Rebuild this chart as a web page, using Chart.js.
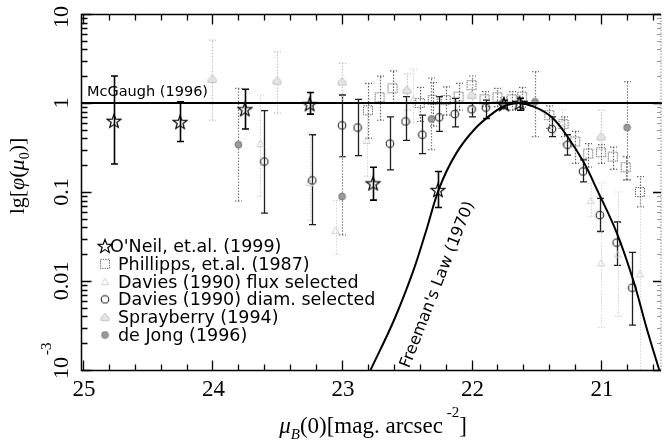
<!DOCTYPE html>
<html>
<head>
<meta charset="utf-8">
<script src="https://cdn.jsdelivr.net/npm/chart.js@4.4.0/dist/chart.umd.min.js"></script>
<style>
html, body { margin: 0; padding: 0; background: #fff; }
#wrap { width: 667px; height: 445px; }
</style>
</head>
<body>
<div id="wrap"><canvas id="myChart" width="667" height="445"></canvas></div>
<script>
// axis ticks
var xTickValues = [25, 24, 23, 22, 21];
var xTickLabels = ['25', '24', '23', '22', '21'];
var yTickValues = [10, 1, 0.1, 0.01, 0.001];
var yTickLabels = ['10', '1', '0.1', '0.01', '10'];

// O'Neil, et.al. (1999)
var oneilMu  = [24.76, 24.25, 23.75, 23.25, 22.76, 22.26, 21.75, 21.63];
var oneilPhi = [0.63, 0.61, 0.85, 0.97, 0.125, 0.105, 0.97, 1.0];
var oneilLo  = [0.206, 0.37, 0.51, 0.75, 0.081, 0.067, 0.88, 0.83];
var oneilHi  = [2.01, 1.03, 1.43, 1.31, 0.19, 0.17, 1.07, 1.13];

// Phillipps, et.al. (1987)
var phillMu  = [22.80, 22.71, 22.61, 22.40, 22.30, 22.20, 22.10, 22.00, 21.90, 21.80, 21.69, 21.61, 21.40, 21.29, 21.20, 21.10, 21.00, 20.91, 20.81, 20.70];
var phillPhi = [0.83, 1.16, 1.46, 1.0, 1.08, 1.08, 1.18, 1.59, 1.10, 1.16, 1.10, 1.18, 0.73, 0.58, 0.37, 0.27, 0.28, 0.25, 0.19, 0.10];
var phillLo  = [0.40, 0.64, 1.0, 0.62, 0.55, 0.73, 0.83, 1.25, 0.91, 0.91, 0.83, 0.90, 0.52, 0.42, 0.21, 0.19, 0.21, 0.18, 0.137, 0.068];
var phillHi  = [1.66, 2.0, 2.29, 1.5, 1.7, 1.52, 1.66, 2.01, 1.34, 1.46, 1.34, 1.5, 0.93, 0.70, 0.48, 0.35, 0.34, 0.32, 0.25, 0.149];

// Davies (1990) flux selected
var fluxMu  = [23.63, 23.25, 23.05, 22.81, 22.45, 21.30, 21.08, 21.00, 20.87, 20.70];
var fluxPhi = [0.35, 0.127, 0.037, 0.38, 1.1, 0.6, 0.08, 0.016, 0.02, 0.012];
var fluxLo  = [0.089, 0.048, 0.02, 0.15, 0.6, 0.35, 0.053, 0.003, 0.004, 0.001];
var fluxHi  = [1.23, 0.46, 0.08, 0.9, 2.4, 0.85, 0.125, 0.126, 0.1, 0.09];

// Davies (1990) diam. selected
var diamMu  = [23.60, 23.23, 23.00, 22.88, 22.63, 22.51, 22.38, 22.25, 22.13, 22.00, 21.89, 21.38, 21.26, 21.14, 21.01, 20.88, 20.76];
var diamPhi = [0.22, 0.135, 0.56, 0.53, 0.35, 0.62, 0.44, 0.69, 0.75, 0.85, 0.89, 0.51, 0.34, 0.17, 0.055, 0.027, 0.0084];
var diamLo  = [0.058, 0.043, 0.25, 0.256, 0.177, 0.38, 0.27, 0.48, 0.54, 0.70, 0.67, 0.42, 0.26, 0.13, 0.036, 0.015, 0.0032];
var diamHi  = [0.82, 0.44, 1.23, 1.1, 0.70, 1.18, 0.73, 1.18, 1.13, 0.99, 1.08, 0.70, 0.44, 0.23, 0.085, 0.046, 0.021];

// Sprayberry (1994)
var sprayMu  = [24.00, 23.50, 23.00, 22.50, 22.00, 21.00];
var sprayPhi = [1.86, 1.78, 1.74, 1.40, 1.23, 0.42];
var sprayLo  = [0.64, 0.77, 1.0, 0.83, 0.9, 0.3];
var sprayHi  = [5.1, 3.77, 2.79, 2.12, 1.6, 0.83];

// de Jong (1996)
var jongMu  = [23.80, 23.00, 22.31, 21.76, 21.51, 20.80];
var jongPhi = [0.34, 0.089, 0.66, 1.0, 1.03, 0.53];
var jongLo  = [0.079, 0.033, 0.30, 0.85, 0.42, 0.137];
var jongHi  = [1.46, 0.25, 1.9, 1.15, 2.25, 1.74];

// McGaugh (1996) and Freeman's Law (1970)
var mcgaughMu  = [25.015, 20.53];
var mcgaughPhi = [1, 1];
var freemanMu  = [22.78, 22.60, 22.45, 22.35, 22.25, 22.12, 21.97, 21.82, 21.74, 21.64, 21.51, 21.38, 21.26, 21.13, 21.03, 20.88, 20.75, 20.65, 20.56, 20.50];
var freemanPhi = [0.001, 0.0036, 0.013, 0.037, 0.11, 0.27, 0.52, 0.8, 0.93, 1.0, 0.9, 0.69, 0.42, 0.21, 0.105, 0.035, 0.010, 0.0030, 0.0011, 0.0006];

function pts(xs, ys) {
	return xs.map(function(x, i){ return {x: x, y: ys[i]}; });
}

function marker(w, h, draw) {
	var c = document.createElement('canvas');
	c.width = w; c.height = h;
	draw(c.getContext('2d'), w, h);
	return c;
}

var starImg = marker(16, 16, function(g){
	g.beginPath();
	for (var i = 0; i < 10; i++) {
		var r = i % 2 ? 3 : 7.2;
		var a = -Math.PI / 2 + i * Math.PI / 5;
		var px = 8 + r * Math.cos(a), py = 8.6 + r * Math.sin(a);
		if (i) g.lineTo(px, py); else g.moveTo(px, py);
	}
	g.closePath();
	g.strokeStyle = '#000'; g.lineWidth = 1.2; g.stroke();
});
var squareImg = marker(12, 12, function(g){
	g.setLineDash([1.2, 1.2]);
	g.strokeStyle = '#555'; g.lineWidth = 1.1;
	g.strokeRect(1.5, 1.5, 9, 9);
});
var fluxImg = marker(9, 9, function(g){
	g.beginPath(); g.moveTo(4.5, 1); g.lineTo(8, 7.5); g.lineTo(1, 7.5); g.closePath();
	g.strokeStyle = '#d0d0d0'; g.lineWidth = 1; g.stroke();
});
var circleImg = marker(10, 10, function(g){
	g.beginPath(); g.arc(5, 5, 3.8, 0, Math.PI * 2);
	g.strokeStyle = '#222'; g.lineWidth = 1.1; g.stroke();
});
var sprayImg = marker(10, 10, function(g){
	g.beginPath(); g.moveTo(5, 1); g.lineTo(9, 5.5); g.lineTo(9, 8.5); g.lineTo(1, 8.5); g.lineTo(1, 5.5); g.closePath();
	g.fillStyle = '#e4e4e4'; g.fill();
	g.strokeStyle = '#c4c4c4'; g.lineWidth = 1; g.stroke();
});
var jongImg = marker(9, 9, function(g){
	g.beginPath(); g.arc(4.5, 4.5, 3.4, 0, Math.PI * 2);
	g.fillStyle = '#9a9a9a'; g.fill();
	g.strokeStyle = '#6a6a6a'; g.lineWidth = 0.8; g.stroke();
});

// error bars, frame, ticks, labels, legend
var decorPlugin = {
	id: 'decor',
	beforeDatasetsDraw: function(chart){
		var c = chart.ctx, xs = chart.scales.x, ys = chart.scales.y;
		chart.data.datasets.forEach(function(ds){
			if (!ds.errLo) return;
			c.save();
			c.strokeStyle = ds.errColor;
			c.lineWidth = ds.errWidth;
			c.setLineDash(ds.errDash);
			ds.data.forEach(function(p, i){
				var x = Math.round(xs.getPixelForValue(p.x)) + 0.5;
				var y1 = ys.getPixelForValue(ds.errLo[i]);
				var y2 = ys.getPixelForValue(ds.errHi[i]);
				y1 = Math.min(y1, chart.chartArea.bottom);
				c.beginPath();
				c.moveTo(x, y1); c.lineTo(x, y2);
				c.moveTo(x - 3.5, y1); c.lineTo(x + 3.5, y1);
				c.moveTo(x - 3.5, y2); c.lineTo(x + 3.5, y2);
				c.stroke();
			});
			c.restore();
		});
	},
	afterDraw: function(chart){
		var c = chart.ctx, xs = chart.scales.x, ys = chart.scales.y, a = chart.chartArea;
		var L = a.left + 0.5, R = a.right - 1, T = a.top + 0.5, B = a.bottom + 0.5;
		c.save();
		// frame
		c.strokeStyle = '#000'; c.lineWidth = 1.5;
		c.beginPath();
		c.moveTo(R, T); c.lineTo(L, T); c.lineTo(L, B); c.lineTo(R, B);
		c.stroke();
		c.strokeStyle = '#888'; c.lineWidth = 1; c.setLineDash([1.5, 1.5]);
		c.beginPath(); c.moveTo(R, T); c.lineTo(R, B); c.stroke();
		c.setLineDash([]);
		// x ticks
		c.strokeStyle = '#000'; c.lineWidth = 1.3;
		c.beginPath();
		for (var k = 103; k <= 125; k++) {
			var v = k / 5;
			var px = Math.round(xs.getPixelForValue(v)) + 0.5;
			var len = k % 5 === 0 ? 10 : 6;
			c.moveTo(px, B); c.lineTo(px, B - len);
			c.moveTo(px, T); c.lineTo(px, T + len);
		}
		// y ticks
		var yv = [10];
		for (var e = -3; e <= 0; e++) for (var m = 1; m <= 9; m++) yv.push(m * Math.pow(10, e));
		yv.forEach(function(val){
			var py = Math.round(ys.getPixelForValue(val)) + 0.5;
			var major = Math.abs(Math.log10(val) - Math.round(Math.log10(val))) < 1e-6;
			var len = major ? 10 : 6;
			c.moveTo(L, py); c.lineTo(L + len, py);
			if (major) { c.moveTo(R, py); c.lineTo(R - 8, py); }
		});
		c.stroke();
		c.lineWidth = 1; c.strokeStyle = '#999';
		c.beginPath();
		yv.forEach(function(val){
			var major = Math.abs(Math.log10(val) - Math.round(Math.log10(val))) < 1e-6;
			if (major) return;
			var py = Math.round(ys.getPixelForValue(val)) + 0.5;
			c.moveTo(R, py); c.lineTo(R - 4, py);
		});
		c.stroke();

		// x tick labels
		c.fillStyle = '#000';
		c.font = '23px "Liberation Serif"';
		c.textAlign = 'center'; c.textBaseline = 'alphabetic';
		xTickValues.forEach(function(v, i){
			c.fillText(xTickLabels[i], xs.getPixelForValue(v) + 1, 396);
		});
		// y tick labels (rotated)
		yTickValues.forEach(function(v, i){
			var py = ys.getPixelForValue(v);
			c.save();
			c.font = '22px "Liberation Serif"';
			if (i === 0) py += 3;
			if (i === yTickValues.length - 1) {
				c.translate(68, 379);
				c.rotate(-Math.PI / 2);
				c.textAlign = 'left';
				c.fillText(yTickLabels[i], 0, 0);
				var w = c.measureText(yTickLabels[i]).width;
				c.font = '15px "Liberation Serif"';
				c.fillText('-3', w + 2, -17);
			} else {
				c.translate(68, py);
				c.rotate(-Math.PI / 2);
				c.fillText(yTickLabels[i], 0, 0);
			}
			c.restore();
		});

		// x axis title
		var parts = [
			['italic 23px "Liberation Serif"', '\u03bc', 0],
			['italic 15px "Liberation Serif"', 'B', 6],
			['23px "Liberation Serif"', '(0)[mag. arcsec', 0],
			['15px "Liberation Serif"', ' -2', -16],
			['23px "Liberation Serif"', ']', 0]
		];
		drawParts(c, parts, 373, 433, 0);
		// y axis title
		var yparts = [
			['22px "Liberation Serif"', 'lg[', 0],
			['italic 22px "Liberation Serif"', '\u03c6', 0],
			['22px "Liberation Serif"', '(', 0],
			['italic 22px "Liberation Serif"', '\u03bc', 0],
			['14px "Liberation Serif"', '0', 5],
			['22px "Liberation Serif"', ')]', 0]
		];
		drawParts(c, yparts, 24, 176, -Math.PI / 2);

		// McGaugh label
		c.font = '14.5px "DejaVu Sans"';
		c.textAlign = 'left';
		c.fillText('McGaugh (1996)', 87, 96);

		// Freeman label
		c.save();
		c.translate(436, 284);
		c.rotate(-68.5 * Math.PI / 180);
		c.font = '16px "DejaVu Sans"';
		c.textAlign = 'center';
		c.fillText("Freeman's Law (1970)", 0, 6);
		c.restore();

		// legend
		var items = [
			[starImg, "O'Neil, et.al. (1999)", 110],
			[squareImg, 'Phillipps, et.al. (1987)', 118],
			[fluxImg, 'Davies (1990) flux selected', 118],
			[circleImg, 'Davies (1990) diam. selected', 118],
			[sprayImg, 'Sprayberry (1994)', 118],
			[jongImg, 'de Jong (1996)', 118]
		];
		c.font = '17.5px "DejaVu Sans"';
		items.forEach(function(it, i){
			var base = 252 + i * 17.8;
			var img = it[0];
			c.drawImage(img, 105 - img.width / 2, base - 6 - img.height / 2);
			c.fillText(it[1], it[2], base);
		});
		c.restore();
	}
};

function drawParts(c, parts, cx, cy, rot) {
	c.save();
	c.translate(cx, cy);
	c.rotate(rot);
	c.textAlign = 'left';
	var total = 0;
	parts.forEach(function(p){ c.font = p[0]; total += c.measureText(p[1]).width; });
	var x = -total / 2;
	parts.forEach(function(p){
		c.font = p[0];
		c.fillText(p[1], x, p[2]);
		x += c.measureText(p[1]).width;
	});
	c.restore();
}

var myChart = new Chart(document.getElementById('myChart').getContext('2d'), {
	type: 'scatter',
	data: {
		datasets: [
			{ label: "O'Neil, et.al. (1999)", data: pts(oneilMu, oneilPhi), errLo: oneilLo, errHi: oneilHi,
			  errColor: '#000', errWidth: 1.6, errDash: [], pointStyle: starImg },
			{ label: 'McGaugh (1996)', type: 'line', data: pts(mcgaughMu, mcgaughPhi), borderColor: '#000',
			  borderWidth: 2, pointRadius: 0 },
			{ label: "Freeman's Law (1970)", type: 'line', data: pts(freemanMu, freemanPhi), borderColor: '#000',
			  borderWidth: 2, pointRadius: 0, tension: 0.35 },
			{ label: 'Davies (1990) diam. selected', data: pts(diamMu, diamPhi), errLo: diamLo, errHi: diamHi,
			  errColor: '#1e1e1e', errWidth: 1.3, errDash: [], pointStyle: circleImg },
			{ label: 'Phillipps, et.al. (1987)', data: pts(phillMu, phillPhi), errLo: phillLo, errHi: phillHi,
			  errColor: '#666', errWidth: 1.2, errDash: [1.5, 1.5], pointStyle: squareImg },
			{ label: 'de Jong (1996)', data: pts(jongMu, jongPhi), errLo: jongLo, errHi: jongHi,
			  errColor: '#7a7a7a', errWidth: 1.2, errDash: [1.5, 1.5], pointStyle: jongImg },
			{ label: 'Sprayberry (1994)', data: pts(sprayMu, sprayPhi), errLo: sprayLo, errHi: sprayHi,
			  errColor: '#c4c4c4', errWidth: 1.2, errDash: [1.5, 1.5], pointStyle: sprayImg },
			{ label: 'Davies (1990) flux selected', data: pts(fluxMu, fluxPhi), errLo: fluxLo, errHi: fluxHi,
			  errColor: '#d6d6d6', errWidth: 1.1, errDash: [1.5, 1.5], pointStyle: fluxImg }
		]
	},
	options: {
		responsive: false,
		animation: false,
		layout: { padding: { left: 81, top: 14, right: 0, bottom: 75 } },
		plugins: { legend: { display: false }, tooltip: { enabled: false } },
		scales: {
			x: { type: 'linear', reverse: true, min: 20.53, max: 25.015, display: false },
			y: { type: 'logarithmic', min: 0.001, max: 10, display: false }
		}
	},
	plugins: [decorPlugin]
});
</script>
</body>
</html>
